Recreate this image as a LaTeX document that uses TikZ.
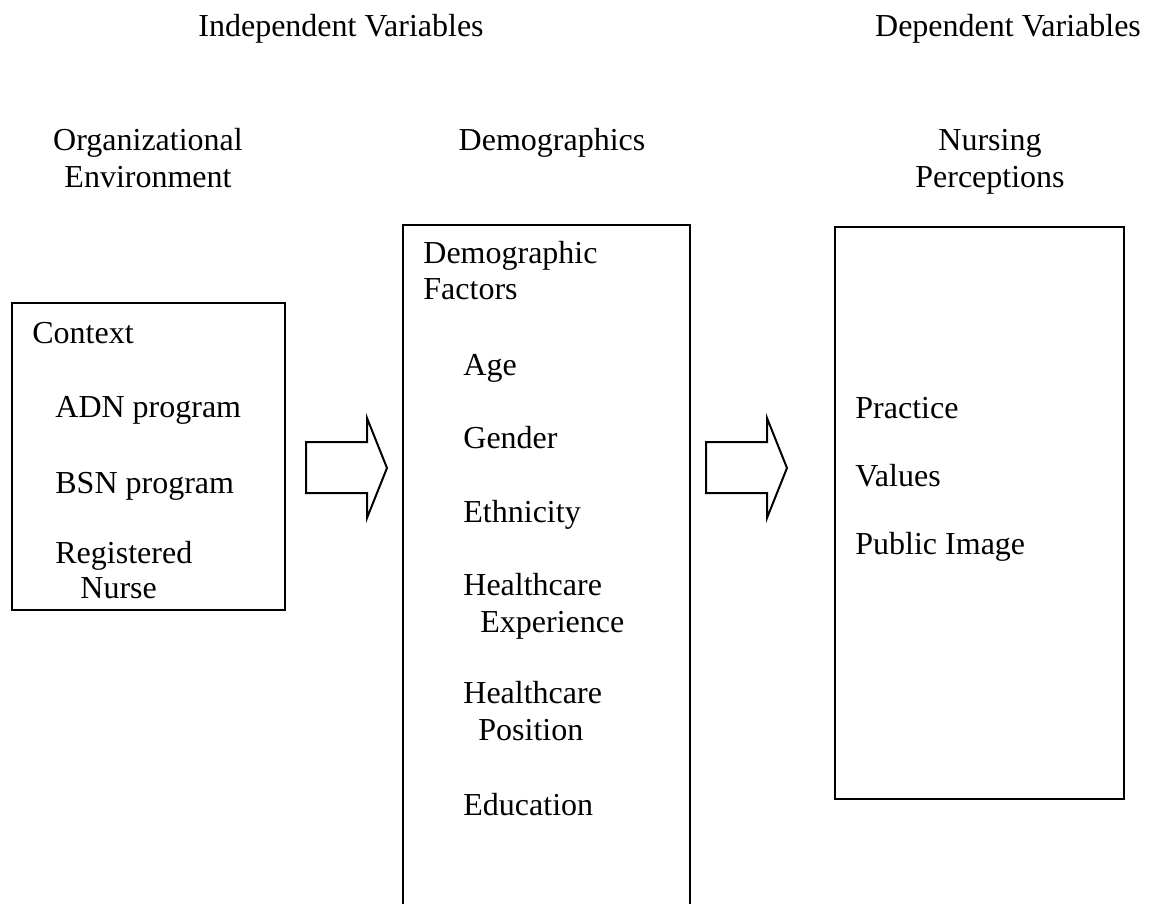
\documentclass[tikz,border=0pt]{standalone}
\usepackage{fontspec}
\setmainfont{Liberation Serif}
\begin{document}
\begin{tikzpicture}[x=0.5pt,y=-0.5pt,
  font=\fontsize{16}{19}\selectfont,
  lbl/.style={inner sep=0pt, anchor=base west},
  ctr/.style={inner sep=0pt, anchor=base},
  boxline/.style={line width=1pt},
  framebox/.style={draw, boxline, inner sep=0pt},
  blockarrow/.style={draw, boxline, line join=miter}]
\useasboundingbox (0,0) rectangle (1150,904);

% headings
\node[ctr] (iv) at (341,37) {Independent Variables};
\node[ctr] (dv) at (1008,37) {Dependent Variables};
\node[ctr] (org1) at (148,150) {Organizational};
\node[ctr] (org2) at (148,187) {Environment};
\node[ctr] (dem) at (552,150) {Demographics};
\node[ctr] (nur1) at (990,150) {Nursing};
\node[ctr] (nur2) at (990,187) {Perceptions};

% left box
\node[framebox, minimum width=136.5pt, minimum height=153.5pt] (ctx) at (148.5,456.5) {};
\node[lbl] (c0) at (32,343) {Context};
\node[lbl] (c1) at (55,417) {ADN program};
\node[lbl] (c2) at (55,493) {BSN program};
\node[lbl] (c3) at (55,563) {Registered};
\node[lbl] (c4) at (80,598) {Nurse};

% middle box (open at the bottom edge of the picture)
\coordinate (mbl) at (403,904);
\coordinate (mtl) at (403,225);
\coordinate (mtr) at (690,225);
\coordinate (mbr) at (690,904);
\draw[boxline] (mbl) -- (mtl) -- (mtr) -- (mbr);
\node[lbl] (d0) at (423,263) {Demographic};
\node[lbl] (d1) at (423,299) {Factors};
\node[lbl] (d2) at (463,375) {Age};
\node[lbl] (d3) at (463,448) {Gender};
\node[lbl] (d4) at (463,522) {Ethnicity};
\node[lbl] (d5) at (463,595) {Healthcare};
\node[lbl] (d6) at (480,632) {Experience};
\node[lbl] (d7) at (463,703) {Healthcare};
\node[lbl] (d8) at (478,740) {Position};
\node[lbl] (d9) at (463,815) {Education};

% right box
\node[framebox, minimum width=144.5pt, minimum height=286pt] (np) at (979.5,513) {};
\node[lbl] (n1) at (855,418) {Practice};
\node[lbl] (n2) at (855,486) {Values};
\node[lbl] (n3) at (855,554) {Public Image};

% block arrows
\draw[blockarrow] (306,442) -- (367,442) -- (367,418) -- (387,468) -- (367,518) -- (367,493) -- (306,493) -- cycle;
\draw[blockarrow] (706,442) -- (767,442) -- (767,418) -- (787,468) -- (767,518) -- (767,493) -- (706,493) -- cycle;
\end{tikzpicture}
\end{document}
